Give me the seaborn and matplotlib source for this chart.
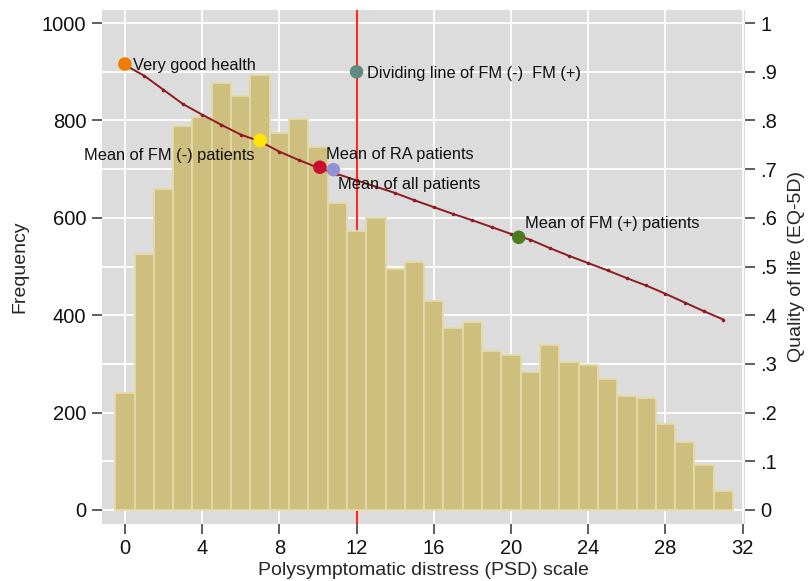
import matplotlib
matplotlib.use("Agg")
import matplotlib.pyplot as plt
from matplotlib.ticker import MultipleLocator, FixedLocator
import seaborn as sns
import pandas as pd

# PSD score (0-31) and number of patients at each score
psd_score = list(range(32))
frequency = [240, 525, 659, 788, 808, 876, 851, 894, 774, 803,
             746, 631, 573, 599, 495, 510, 429, 373, 385, 327,
             319, 284, 339, 303, 297, 269, 233, 230, 176, 140,
             93, 38]

# Mean EQ-5D quality of life at each PSD score
eq5d = [0.914, 0.892, 0.863, 0.834, 0.812, 0.791, 0.771, 0.757, 0.736, 0.719,
        0.703, 0.690, 0.677, 0.664, 0.651, 0.636, 0.622, 0.608, 0.595, 0.581,
        0.567, 0.555, 0.538, 0.522, 0.507, 0.492, 0.476, 0.461, 0.444, 0.426,
        0.408, 0.391]

# Highlighted reference points
point_labels = ["Very good health", "Dividing line of FM (-)  FM (+)",
                "Mean of FM (-) patients", "Mean of RA patients",
                "Mean of all patients", "Mean of FM (+) patients"]
point_x = [0.0, 12.0, 7.0, 10.1, 10.8, 20.4]
point_y = [0.916, 0.900, 0.759, 0.704, 0.699, 0.560]
point_colors = ["#F07D00", "#5F8A80", "#FFE600", "#C8102E", "#9590D6", "#4B7A20"]
label_x = [0.42, 12.55, 6.7, 10.4, 11.05, 20.75]
label_y = [0.913, 0.896, 0.729, 0.730, 0.668, 0.589]
label_ha = ["left", "left", "right", "left", "left", "left"]

fm_cutoff = 12

sns.set_theme(style="white")
plt.rcParams["font.family"] = ["Liberation Sans", "DejaVu Sans"]

fig = plt.figure(figsize=(8.09, 5.81), dpi=100)
ax = fig.add_axes([0.1257, 0.0981, 0.7952, 0.8847])
ax.set_facecolor("#DCDCDC")

hist_df = pd.DataFrame({"psd": psd_score, "freq": frequency})
sns.barplot(data=hist_df, x="psd", y="freq", native_scale=True, width=1.0,
            color="#CFBF7E", saturation=1, edgecolor="#E4DAAA", linewidth=1.3,
            ax=ax, zorder=2)

ax.axvline(fm_cutoff, color="#FF2A1A", lw=1.5, zorder=1)

ax.set_xlim(-1.2, 32.12)
ax.set_ylim(-29, 1027)
ax.xaxis.set_major_locator(MultipleLocator(4))
ax.yaxis.set_major_locator(MultipleLocator(200))
ax.yaxis.set_minor_locator(MultipleLocator(100))
ax.grid(True, which="both", color="white", lw=1.3, zorder=0)
ax.set_axisbelow(True)
for s in ax.spines.values():
    s.set_visible(False)
ax.tick_params(axis="both", which="major", direction="out", length=7, width=1.1,
               color="#333333", labelsize=14.5, labelcolor="#111111", pad=4,
               left=True, bottom=True)
ax.tick_params(axis="y", which="minor", length=0)
ax.set_xlabel("Polysymptomatic distress (PSD) scale", fontsize=14, labelpad=3)
ax.set_ylabel("Frequency", fontsize=14, labelpad=10)

ax2 = ax.twinx()
ax2.set_ylim(-0.029, 1.027)
line_df = pd.DataFrame({"psd": psd_score, "eq5d": eq5d})
sns.lineplot(data=line_df, x="psd", y="eq5d", color="#8E1B22", lw=1.4,
             marker="o", markersize=2.6, markeredgewidth=0, ax=ax2, zorder=3)
ax2.scatter(point_x, point_y, s=95, c=point_colors, edgecolors="none", zorder=4)
for txt, tx, ty, ha in zip(point_labels, label_x, label_y, label_ha):
    ax2.text(tx, ty, txt, fontsize=11.8, ha=ha, va="center", color="#111111", zorder=5)

ax2.yaxis.set_major_locator(FixedLocator([i / 10 for i in range(11)]))
ax2.set_yticklabels(["0", ".1", ".2", ".3", ".4", ".5", ".6", ".7", ".8", ".9", "1"])
for s in ax2.spines.values():
    s.set_visible(False)
ax2.tick_params(axis="y", direction="out", length=7, width=1.1, color="#333333",
                labelsize=14.5, labelcolor="#111111", pad=4, right=True)
ax2.set_xlabel("")
ax2.set_ylabel("Quality of life (EQ-5D)", fontsize=14, labelpad=8)
ax2.set_xlim(-1.2, 32.12)

fig.savefig("out.png", dpi=100, facecolor="white")
